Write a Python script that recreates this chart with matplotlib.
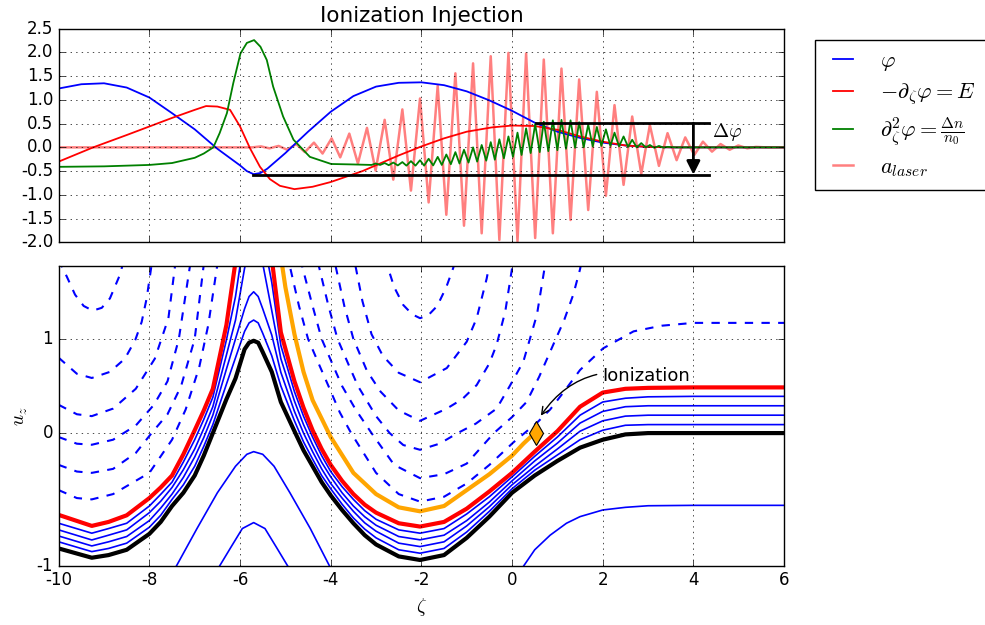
import numpy as np
import matplotlib
matplotlib.use('Agg')
import matplotlib.pyplot as plt

plt.style.use('classic')
plt.rcParams['axes.unicode_minus'] = False
plt.rcParams['figure.facecolor'] = 'white'
plt.rcParams['savefig.facecolor'] = 'white'

# ── top panel: potential, field, density, laser ──────────────────────────
phi_z = [-10, -9.5, -9, -8.5, -8, -7.5, -7, -6.5, -6, -5.85, -5.7, -5.55, -5.4,
         -5, -4.5, -4, -3.5, -3, -2.5, -2, -1.5, -1, -0.5, 0, 0.5, 1, 1.5, 2,
         2.5, 3, 3.5, 6]
phi = [1.24, 1.33, 1.35, 1.26, 1.05, 0.72, 0.38, -0.03, -0.38, -0.50, -0.565,
       -0.54, -0.45, -0.12, 0.33, 0.75, 1.08, 1.28, 1.36, 1.37, 1.31, 1.18, 0.99,
       0.77, 0.52, 0.33, 0.20, 0.10, 0.04, 0.01, 0.0, 0.0]

E_z = [-10, -9.24, -8.5, -8, -7.5, -7, -6.75, -6.5, -6.22, -6, -5.78, -5.56,
       -5.34, -5.12, -4.8, -4.4, -4, -3.3, -2.5, -2, -1.5, -1, -0.45, 0, 0.5, 1,
       1.5, 2, 2.5, 3, 3.5, 6]
E = [-0.30, 0.0, 0.26, 0.44, 0.62, 0.79, 0.87, 0.86, 0.79, 0.44, -0.02, -0.41,
     -0.67, -0.81, -0.88, -0.83, -0.73, -0.50, -0.17, 0.02, 0.19, 0.33, 0.42,
     0.46, 0.45, 0.37, 0.23, 0.12, 0.04, 0.01, 0.0, 0.0]

green_z = [-10, -9, -8, -7.5, -7, -6.8, -6.59, -6.45, -6.29, -6.15, -5.99, -5.85,
           -5.69, -5.55, -5.41, -5.27, -5.05, -4.82, -4.46, -3.99, -3.5, -3.1,
           -3.01, -2.91, -2.81, -2.72, -2.62, -2.52, -2.42, -2.33, -2.23, -2.13,
           -2.03, -1.94, -1.84, -1.74, -1.64, -1.55, -1.45, -1.35, -1.25, -1.16,
           -1.06, -0.96, -0.86, -0.77, -0.67, -0.57, -0.47, -0.38, -0.28, -0.18,
           -0.08, 0.02, 0.12, 0.21, 0.31, 0.41, 0.51, 0.61, 0.70, 0.80, 0.90,
           1.00, 1.09, 1.19, 1.29, 1.39, 1.48, 1.58, 1.68, 1.78, 1.87, 1.97,
           2.07, 2.17, 2.26, 2.36, 2.46, 2.56, 2.65, 2.75, 2.85, 2.95, 3.04,
           3.14, 3.24, 3.34, 3.43, 3.6, 6]
green = [-0.41, -0.40, -0.37, -0.33, -0.22, -0.13, 0.0, 0.30, 0.72, 1.35, 1.98,
         2.20, 2.26, 2.12, 1.84, 1.28, 0.65, 0.16, -0.20, -0.35, -0.36, -0.37,
         -0.34, -0.37, -0.33, -0.375, -0.32, -0.38, -0.31, -0.385, -0.29, -0.385,
         -0.27, -0.385, -0.24, -0.38, -0.20, -0.37, -0.15, -0.355, -0.10, -0.34,
         -0.05, -0.32, 0.0, -0.30, 0.05, -0.28, 0.11, -0.26, 0.17, -0.23,
         0.23, -0.20, 0.31, -0.16, 0.40, -0.12, 0.49, -0.10, 0.54, -0.08, 0.57,
         -0.06, 0.58, -0.03, 0.57, -0.01, 0.53, 0.0, 0.48, 0.02, 0.43, 0.03,
         0.38, 0.03, 0.31, 0.02, 0.23, 0.01, 0.16, 0.0, 0.09, 0.0, 0.05,
         -0.01, 0.03, -0.005, 0.01, 0.0, 0.0]

laser_z = [-10, -5.73, -5.54, -5.35, -5.15, -4.96, -4.76, -4.57, -4.37, -4.18,
           -3.98, -3.79, -3.59, -3.40, -3.20, -3.01, -2.81, -2.62, -2.42, -2.23,
           -2.03, -1.84, -1.64, -1.45, -1.25, -1.06, -0.86, -0.67, -0.47, -0.28,
           -0.08, 0.12, 0.31, 0.51, 0.70, 0.90, 1.09, 1.29, 1.48, 1.68, 1.87,
           2.07, 2.26, 2.46, 2.65, 2.85, 3.04, 3.24, 3.43, 3.63, 3.82, 4.02,
           4.21, 4.41, 4.60, 4.80, 4.99, 5.19, 5.38, 5.6, 6]
laser = [0, 0, 0.02, -0.02, 0.03, -0.05, 0.07, -0.10, 0.10, -0.13,
         0.19, -0.21, 0.29, -0.34, 0.41, -0.49, 0.58, -0.68, 0.80, -0.91,
         1.03, -1.16, 1.30, -1.42, 1.56, -1.65, 1.77, -1.81, 1.92, -1.95,
         1.99, -1.98, 1.98, -1.91, 1.85, -1.81, 1.66, -1.53, 1.43, -1.32, 1.17,
         -1.02, 0.89, -0.79, 0.65, -0.56, 0.47, -0.39, 0.30, -0.27, 0.21, -0.16,
         0.12, -0.09, 0.07, -0.05, 0.04, -0.02, 0.01, 0, 0]

# potential jump between ionization point and minimum
ion_z, ion_u = 0.52, 0.0
phi_ion = 0.51
phi_min_z, phi_min = -5.71, -0.575
dphi_end, dphi_arrow_z = 4.35, 4.0

# ── bottom panel: phase space orbits ──────────────────────────────────────
sep_z = [-10, -9.27, -8.9, -8.5, -8, -7.75, -7.5, -7.25, -7, -6.8, -6.6, -6.3,
         -6.1, -5.9, -5.8, -5.7, -5.6, -5.5, -5.3, -5.1, -4.8, -4.6, -4.4, -4.2,
         -4, -3.75, -3.5, -3.25, -3, -2.5, -2.03, -1.5, -1, -0.5, 0, 0.5, 1, 1.5,
         2, 2.5, 3, 4, 6]
black_u = [-0.87, -0.94, -0.92, -0.88, -0.76, -0.67, -0.55, -0.45, -0.32, -0.17,
           0.0, 0.36, 0.58, 0.89, 0.96, 0.98, 0.96, 0.86, 0.65, 0.33, 0.02, -0.13,
           -0.25, -0.37, -0.47, -0.58, -0.68, -0.77, -0.84, -0.93, -0.957, -0.92,
           -0.79, -0.63, -0.45, -0.32, -0.21, -0.11, -0.05, -0.01, 0.0, 0.0, 0.0]
blue1_u = [-0.82, -0.894, -0.87, -0.83, -0.71, -0.62, -0.50, -0.39, -0.25, -0.10,
           0.09, 0.52, 0.80, 1.08, 1.17, 1.20, 1.17, 1.06, 0.82, 0.50, 0.13, -0.066,
           -0.196, -0.32, -0.42, -0.536, -0.64, -0.724, -0.79, -0.88, -0.906, -0.87,
           -0.746, -0.59, -0.42, -0.28, -0.165, -0.05, 0.03, 0.083, 0.09, 0.09, 0.09]
blue2_u = [-0.776, -0.851, -0.82, -0.78, -0.66, -0.566, -0.46, -0.334, -0.18,
           -0.034, 0.19, 0.68, 1.0, 1.32, 1.45, 1.50, 1.45, 1.32, 1.04, 0.645, 0.23,
           0.0, -0.14, -0.27, -0.38, -0.49, -0.59, -0.677, -0.74, -0.83, -0.856,
           -0.82, -0.70, -0.555, -0.39, -0.25, -0.12, 0.02, 0.13, 0.18, 0.19, 0.19,
           0.19]
blue3_u = [-0.73, -0.806, -0.77, -0.73, -0.60, -0.514, -0.41, -0.276, -0.12, 0.048,
           0.28, 0.83, 1.2, 1.75, 1.95, 2.05, 1.95, 1.8, 1.30, 0.79, 0.34, 0.09,
           -0.087, -0.22, -0.33, -0.45, -0.55, -0.631, -0.695, -0.78, -0.805, -0.77,
           -0.66, -0.52, -0.36, -0.21, -0.076, 0.106, 0.23, 0.28, 0.29, 0.29, 0.29]
blue4_u = [-0.68, -0.755, -0.72, -0.68, -0.55, -0.462, -0.37, -0.218, -0.05, 0.145,
           0.38, 0.99, 1.45, 2.1, 2.3, 2.4, 2.3, 2.1, 1.6, 0.93, 0.44, 0.18, -0.03,
           -0.17, -0.29, -0.404, -0.50, -0.585, -0.65, -0.73, -0.755, -0.72, -0.61,
           -0.48, -0.33, -0.175, -0.03, 0.19, 0.33, 0.37, 0.385, 0.39, 0.39]
red_u = [-0.617, -0.70, -0.67, -0.62, -0.49, -0.41, -0.32, -0.16, 0.03, 0.24, 0.47,
         1.15, 1.82, 2.6, 2.8, 2.9, 2.8, 2.6, 1.85, 1.07, 0.55, 0.27, 0.03, -0.12,
         -0.24, -0.36, -0.46, -0.54, -0.60, -0.68, -0.705, -0.67, -0.57, -0.44,
         -0.30, -0.14, 0.02, 0.28, 0.43, 0.47, 0.48, 0.485, 0.485]

orbit_z = [-5.2, -5.0, -4.8, -4.6, -4.4, -4.0, -3.5, -3.0, -2.5, -2.03, -1.5, -1.0,
           -0.5, 0.0, 0.25, 0.52]
orbit_u = [2.2, 1.55, 1.05, 0.65, 0.35, -0.03, -0.30, -0.46, -0.56, -0.59, -0.55,
           -0.43, -0.31, -0.17, -0.08, 0.01]

low1_z = [-7.5, -7.4, -6.95, -6.5, -6.1, -5.85, -5.7, -5.5, -5.25, -4.9, -4.45,
          -4.03, -3.95]
low1_u = [-1.06, -1.0, -0.72, -0.45, -0.25, -0.16, -0.14, -0.16, -0.25, -0.45,
          -0.72, -1.0, -1.06]
low2_z = [-6.5, -6.2, -5.95, -5.7, -5.45, -5.2, -4.9]
low2_u = [-1.03, -0.86, -0.72, -0.675, -0.72, -0.86, -1.03]
low3_z = [0.2, 0.5, 0.84, 1.2, 1.5, 2.0, 2.5, 3.0, 4.0, 6.0]
low3_u = [-1.03, -0.88, -0.77, -0.68, -0.63, -0.58, -0.56, -0.548, -0.545, -0.545]

dash1_z = [-10.0, -9.82, -9.64, -9.45, -9.25, -9.05, -8.87, -8.65, -8.5, -2.9,
           -2.76, -2.6, -2.4, -2.2, -2.03, -1.85, -1.65, -1.45, -1.3, -1.15, 6.0]
dash1_u = [1.84, 1.66, 1.47, 1.35, 1.30, 1.33, 1.43, 1.68, 1.95, 1.95,
           1.79, 1.55, 1.36, 1.26, 1.22, 1.25, 1.35, 1.55, 1.75, 2.0, 2.0]
dash2_z = [-10, -9.6, -9.27, -8.87, -8.54, -8.31, -8.17, -8.06, -7.95, -7.85,
           -3.55, -3.46, -3.3, -3.1, -2.85, -2.5, -2.03, -1.44, -1.0, -0.78,
           -0.56, -0.5, -0.42, 6]
dash2_u = [0.80, 0.63, 0.585, 0.65, 0.79, 0.99, 1.18, 1.43, 1.79, 2.1,
           2.1, 1.79, 1.4, 1.05, 0.82, 0.64, 0.54, 0.69, 0.97, 1.22,
           1.64, 1.79, 2.1, 2.1]
dash3_z = [-10, -9.6, -9.27, -8.8, -8.3, -7.88, -7.58, -7.43, -7.3, -4.0, -3.9,
           -3.7, -3.5, -3.2, -2.9, -2.5, -2.03, -1.44, -1.1, -0.78, -0.5, -0.34,
           -0.15, 0.0, 0.1, 6]
dash3_u = [0.30, 0.20, 0.18, 0.26, 0.47, 0.79, 1.22, 1.79, 2.2, 2.2, 1.79,
           1.35, 1.0, 0.66, 0.44, 0.24, 0.13, 0.26, 0.36, 0.51, 0.74, 0.94,
           1.29, 1.75, 2.1, 2.1]
dash4_z = [-10, -9.6, -9.27, -8.8, -8.3, -7.9, -7.6, -7.35, -7.1, -7.0, -4.4,
           -4.27, -4.05, -3.85, -3.6, -3.4, -3.0, -2.7, -2.4, -2.03, -1.6, -1.2,
           -0.8, -0.34, -0.05, 0.25, 0.55, 0.73, 0.85, 6]
dash4_u = [-0.03, -0.08, -0.088, -0.05, 0.08, 0.30, 0.55, 1.0, 1.79, 2.2, 2.2,
           1.79, 1.35, 1.0, 0.72, 0.5, 0.18, 0.0, -0.09, -0.126, -0.08, 0.0,
           0.1, 0.26, 0.5, 0.76, 1.26, 1.79, 2.2, 2.2]
dash5_z = [-10, -9.6, -9.27, -8.8, -8.3, -7.95, -7.6, -7.3, -7.0, -6.8, -6.7,
           -4.75, -4.64, -4.4, -4.2, -3.95, -3.75, -3.45, -3.1, -2.6, -2.03, -1.5,
           -1.0, -0.4, 0.0, 0.32, 0.6, 0.91, 1.15, 1.35, 1.5, 1.6, 6]
dash5_u = [-0.24, -0.29, -0.30, -0.27, -0.15, 0.0, 0.2, 0.5, 1.0, 1.79, 2.2,
           2.2, 1.79, 1.35, 1.0, 0.72, 0.5, 0.25, 0.0, -0.24, -0.34, -0.31,
           -0.23, 0.0, 0.17, 0.33, 0.6, 0.94, 1.2, 1.47, 1.74, 2.0, 2.0]
dash6_z = [-10, -9.6, -9.27, -8.8, -8.0, -7.5, -7.2, -6.9, -6.7, -6.5, -6.4,
           -5.0, -4.91, -4.7, -4.5, -4.25, -4.05, -3.8, -3.55, -3.0, -2.5, -2.03,
           -1.5, -1.0, -0.5, 0.03, 0.55, 0.84, 1.13, 1.5, 2.01, 2.68, 3.3, 4.0, 6.0]
dash6_u = [-0.43, -0.49, -0.50, -0.46, -0.30, -0.05, 0.25, 0.70, 1.15, 1.79, 2.2,
           2.2, 1.79, 1.35, 1.0, 0.72, 0.5, 0.22, 0.0, -0.3, -0.46, -0.517,
           -0.48, -0.38, -0.24, -0.07, 0.11, 0.25, 0.43, 0.67, 0.90, 1.08, 1.14,
           1.17, 1.17]

x_ticks = [-10, -8, -6, -4, -2, 0, 2, 4, 6]
top_yticks = [-2.0, -1.5, -1.0, -0.5, 0.0, 0.5, 1.0, 1.5, 2.0, 2.5]


# u_z axis is stretched below zero
def stretch(u):
    u = np.asarray(u, dtype=float)
    return np.where(u < 0, u * 1.408, u)


def unstretch(y):
    y = np.asarray(y, dtype=float)
    return np.where(y < 0, y / 1.408, y)


fig = plt.figure(figsize=(9.85, 6.25), dpi=100)
ax1 = fig.add_axes([0.0596, 0.6123, 0.7364, 0.3418])
ax2 = fig.add_axes([0.0596, 0.0949, 0.7364, 0.4795])

# top
l_las, = ax1.plot(laser_z, laser, color='r', alpha=0.5, lw=1.8, zorder=1.5)
l_phi, = ax1.plot(phi_z, phi, color='b', lw=1.3)
l_E, = ax1.plot(E_z, E, color='r', lw=1.3)
l_n, = ax1.plot(green_z, green, color='g', lw=1.3)
ax1.plot([ion_z, dphi_end], [phi_ion, phi_ion], 'k', lw=2)
ax1.plot([phi_min_z, dphi_end], [phi_min, phi_min], 'k', lw=2)
ax1.annotate('', xy=(dphi_arrow_z, phi_min), xytext=(dphi_arrow_z, phi_ion),
             arrowprops=dict(arrowstyle='-|>', color='k', lw=2,
                             mutation_scale=20, shrinkA=0, shrinkB=0))
ax1.text(4.42, 0.33, r'$\Delta\varphi$', fontsize=14, va='center')

ax1.set_xlim(-10, 6)
ax1.set_ylim(-2.0, 2.5)
ax1.set_xticks(x_ticks)
ax1.set_yticks(top_yticks)
ax1.set_yticklabels(['%.1f' % v for v in top_yticks])
ax1.tick_params(labelbottom=False)
ax1.grid(True)
ax1.set_title('Ionization Injection', fontsize=15.5)

ax1.legend([l_phi, l_E, l_n, l_las],
           [r'$\varphi$', r'$-\partial_\zeta\varphi = E$',
            r'$\partial_\zeta^2\varphi = \frac{\Delta n}{n_0}$', r'$a_{laser}$'],
           loc='upper left', bbox_to_anchor=(1.043, 0.947), borderaxespad=0,
           fontsize=16, handlelength=1.5, handletextpad=0.9, borderpad=0.5,
           labelspacing=0.4)

# bottom
ax2.set_yscale('function', functions=(stretch, unstretch))
for z, u in [(dash1_z, dash1_u), (dash2_z, dash2_u), (dash3_z, dash3_u),
             (dash4_z, dash4_u), (dash5_z, dash5_u), (dash6_z, dash6_u)]:
    ax2.plot(z, u, 'b--', lw=1.5)
for u in [blue1_u, blue2_u, blue3_u, blue4_u]:
    ax2.plot(sep_z, u, 'b-', lw=1.2)
for z, u in [(low1_z, low1_u), (low2_z, low2_u), (low3_z, low3_u)]:
    ax2.plot(z, u, 'b-', lw=1.2)
ax2.plot(orbit_z, orbit_u, color='orange', lw=3)
ax2.plot(sep_z, red_u, 'r-', lw=3)
ax2.plot(sep_z, black_u, 'k-', lw=3)
ax2.plot(ion_z, ion_u, marker='d', ms=12, mfc='orange', mec='k', mew=0.8,
         zorder=5)
ax2.annotate('Ionization', xy=(0.6, 0.16), xytext=(2.0, 0.61), fontsize=13,
             va='center', ha='left',
             arrowprops=dict(arrowstyle='->', color='k', lw=1,
                             connectionstyle='arc3,rad=0.35'))

ax2.set_xlim(-10, 6)
ax2.set_ylim(-1, 1.774)
ax2.set_xticks(x_ticks)
ax2.set_yticks([-1, 0, 1])
ax2.set_yticklabels(['-1', '0', '1'])
ax2.grid(True)
ax2.set_xlabel(r'$\zeta$', fontsize=14)
ax2.set_ylabel(r'$u_z$', fontsize=14)

fig.savefig('out.png', dpi=100)
